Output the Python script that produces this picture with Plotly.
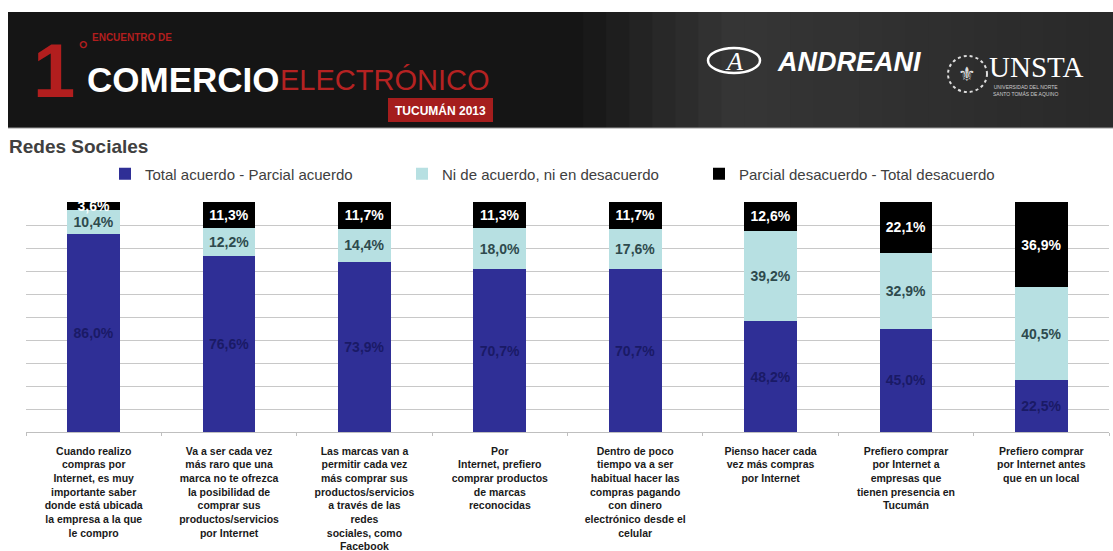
import plotly.graph_objects as go

categories = [
    "Cuando realizo<br>compras por<br>Internet, es muy<br>importante saber<br>donde está ubicada<br>la empresa a la que<br>le compro",
    "Va a ser cada vez<br>más raro que una<br>marca no te ofrezca<br>la posibilidad de<br>comprar sus<br>productos/servicios<br>por Internet",
    "Las marcas van a<br>permitir cada vez<br>más comprar sus<br>productos/servicios<br>a través de las<br>redes<br>sociales, como<br>Facebook",
    "Por<br>Internet, prefiero<br>comprar productos<br>de marcas<br>reconocidas",
    "Dentro de poco<br>tiempo va a ser<br>habitual hacer las<br>compras pagando<br>con dinero<br>electrónico desde el<br>celular",
    "Pienso hacer cada<br>vez más compras<br>por Internet",
    "Prefiero comprar<br>por Internet a<br>empresas que<br>tienen presencia en<br>Tucumán",
    "Prefiero comprar<br>por Internet antes<br>que en un local",
]
acuerdo = [86.0, 76.6, 73.9, 70.7, 70.7, 48.2, 45.0, 22.5]
neutral = [10.4, 12.2, 14.4, 18.0, 17.6, 39.2, 32.9, 40.5]
desacuerdo = [3.6, 11.3, 11.7, 11.3, 11.7, 12.6, 22.1, 36.9]
series_names = ["Total acuerdo - Parcial acuerdo",
                "Ni de acuerdo, ni en desacuerdo",
                "Parcial desacuerdo - Total desacuerdo"]

W, H = 1113, 551
ML, MR, MT, MB = 26, 4, 202, 119
PW, PH = W - ML - MR, H - MT - MB


def px(x):
    return (x - ML) / PW


def py(y):
    return (H - MB - y) / PH


def fmt(vals):
    return [f"{v:.1f}%".replace(".", ",") for v in vals]


FONT = "Liberation Sans, Arial, sans-serif"

fig = go.Figure()
specs = [
    (acuerdo, "#2f2f96", "#1a1a66"),
    (neutral, "#b7e0e2", "#2e4a4d"),
    (desacuerdo, "#000000", "#ffffff"),
]
for (vals, col, tcol), name in zip(specs, series_names):
    fig.add_trace(go.Bar(
        x=categories, y=vals, name=name,
        marker=dict(color=col, line=dict(width=0)),
        text=fmt(vals), textposition="inside", insidetextanchor="middle",
        textangle=0, constraintext="none",
        textfont=dict(family=FONT, size=14, color=tcol, weight="bold"),
        hoverinfo="skip",
    ))

shapes = []
annotations = []

# Banner background (dark, lighter towards the right)
shapes.append(dict(type="rect", xref="paper", yref="paper", layer="below",
                   x0=px(8), x1=px(1113), y0=py(128), y1=py(12),
                   fillcolor="#151515", line=dict(width=0)))
steps = 24
for i in range(steps):
    x0 = 560 + i * (1113 - 560) / steps
    x1 = 560 + (i + 1) * (1113 - 560) / steps + 1
    t = i / (steps - 1)
    if t < 0.3:
        v = 0x15 + (0x36 - 0x15) * (t / 0.3)
    else:
        v = 0x36 - (0x36 - 0x2a) * ((t - 0.3) / 0.7)
    v = int(v)
    col = f"#{v:02x}{v:02x}{v:02x}"
    shapes.append(dict(type="rect", xref="paper", yref="paper", layer="below",
                       x0=px(x0), x1=px(x1), y0=py(128), y1=py(12),
                       fillcolor=col, line=dict(width=0)))
shapes.append(dict(type="line", xref="paper", yref="paper",
                   x0=px(8), x1=px(1113), y0=py(128), y1=py(128),
                   line=dict(color="#9a9a9a", width=1)))
# TUCUMAN box
shapes.append(dict(type="rect", xref="paper", yref="paper",
                   x0=px(388), x1=px(493), y0=py(122), y1=py(98),
                   fillcolor="#a51d1d", line=dict(width=0)))
# Andreani circle
shapes.append(dict(type="circle", xref="paper", yref="paper",
                   x0=px(708), x1=px(760), y0=py(73), y1=py(48),
                   line=dict(color="#ffffff", width=2.5)))
# UNSTA emblem
shapes.append(dict(type="circle", xref="paper", yref="paper",
                   x0=px(948), x1=px(987), y0=py(92), y1=py(56),
                   line=dict(color="#dddddd", width=2, dash="dot")))


def ann(text, x, y, size, color, family=FONT, xanchor="left", yanchor="middle", **kw):
    annotations.append(dict(text=text, x=px(x), y=py(y), xref="paper", yref="paper",
                            xanchor=xanchor, yanchor=yanchor, showarrow=False,
                            font=dict(family=family, size=size, color=color, **kw)))


RED = "#b21e1e"
ann("1", 77, 70, 76, RED, xanchor="right", weight="bold")
ann("°", 76, 50, 26, RED)
ann("ENCUENTRO DE", 90, 38, 10, RED, weight="bold")
ann("COMERCIO", 85, 80, 35, "#ffffff", weight="bold")
ann("ELECTRÓNICO", 278, 80, 29, "#b52222")
ann("TUCUMÁN 2013", 440, 110, 12, "#ffffff", xanchor="center", weight="bold")
ann("A", 734, 61, 26, "#ffffff", family="Liberation Serif, serif", xanchor="center", style="italic")
ann("ANDREANI", 775, 62, 27, "#ffffff", weight="bold", style="italic")
ann("⚜", 967, 74, 20, "#dddddd", family="DejaVu Sans", xanchor="center")
ann("UNSTA", 987, 67, 29, "#ffffff", family="Liberation Serif, serif")
ann("UNIVERSIDAD DEL NORTE<br>SANTO TOMÁS DE AQUINO", 991, 91, 5, "#cccccc")

# Title
ann("Redes Sociales", 7, 146, 19, "#404040", weight="bold")

fig.update_layout(
    width=W, height=H,
    margin=dict(l=ML, r=MR, t=MT, b=MB, autoexpand=False),
    paper_bgcolor="#ffffff", plot_bgcolor="#ffffff",
    barmode="stack", bargap=0.61,
    font=dict(family=FONT),
    shapes=shapes, annotations=annotations,
    showlegend=True,
    legend=dict(orientation="h", x=px(105), xanchor="left",
                y=py(174), yanchor="middle",
                font=dict(family=FONT, size=15, color="#404040"),
                itemwidth=30, traceorder="normal",
                entrywidth=252, entrywidthmode="pixels",
                bgcolor="rgba(0,0,0,0)"),
    xaxis=dict(showline=True, linecolor="#bfbfbf", linewidth=1, automargin=False,
               ticks="outside", tickson="boundaries", ticklen=3, tickcolor="#bfbfbf",
               tickfont=dict(family=FONT, size=10.5, color="#1a1a1a", weight="bold"),
               ticklabelstandoff=9, tickangle=0, fixedrange=True),
    yaxis=dict(range=[0, 100], dtick=10, showticklabels=False, showgrid=True,
               gridcolor="#c8c8c8", gridwidth=1, zeroline=False, showline=False,
               automargin=False, fixedrange=True),
)

fig.write_html("out.html")
